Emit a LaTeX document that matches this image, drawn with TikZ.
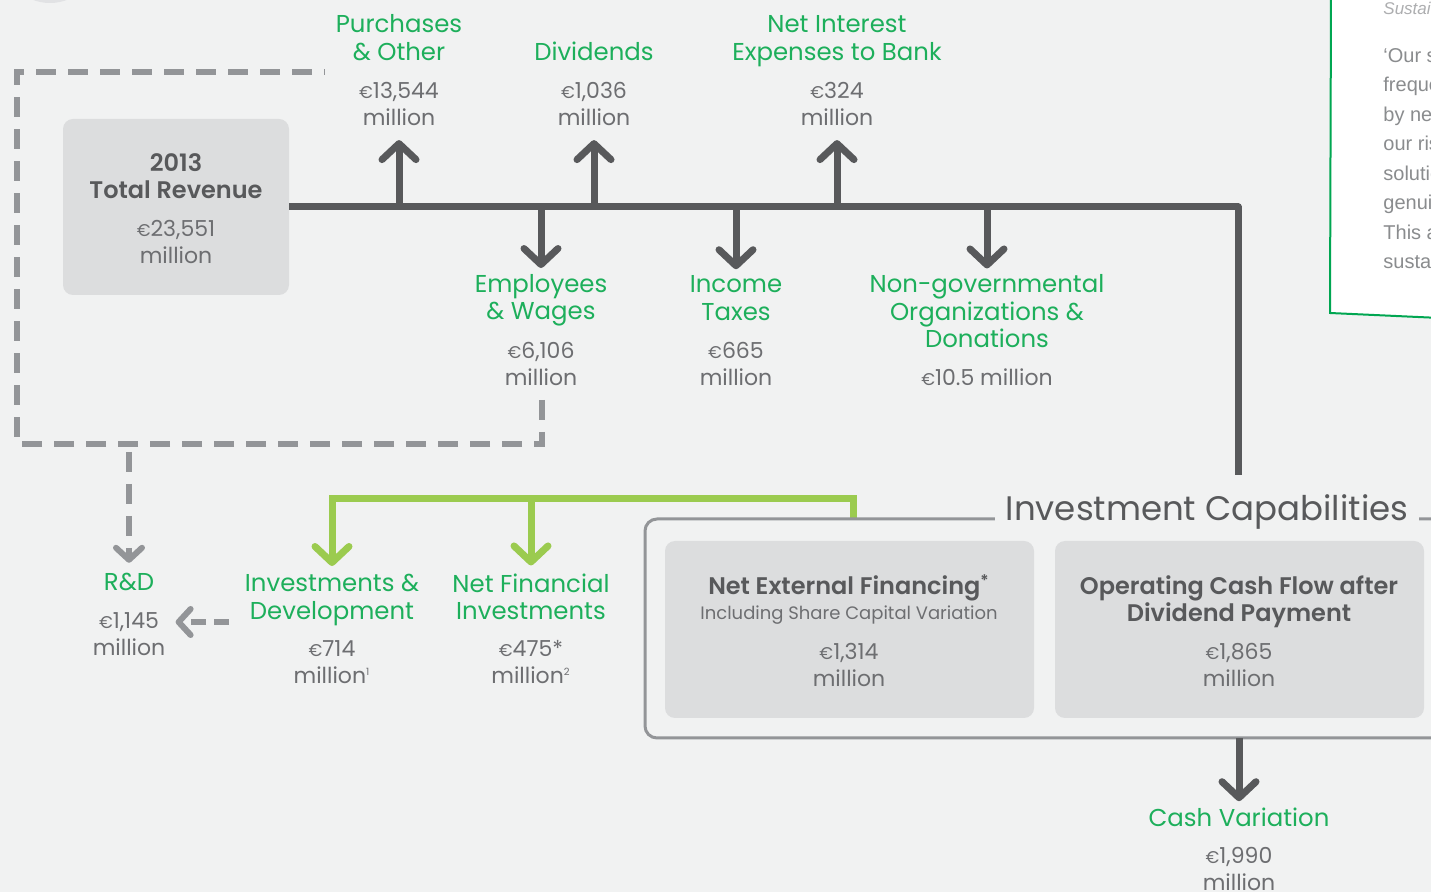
\documentclass[tikz,border=0pt]{standalone}
\usepackage{fontspec}
\setmainfont{Poppins}[BoldFont={Poppins SemiBold}]
\newfontfamily\sidefont{Liberation Sans}
\usetikzlibrary{arrows.meta,positioning}

\definecolor{pagebg}{HTML}{F1F2F2}
\definecolor{boxgrey}{HTML}{DCDDDE}
\definecolor{darkgrey}{HTML}{58595B}
\definecolor{dashgrey}{HTML}{939598}
\definecolor{valgrey}{HTML}{6D6E71}
\definecolor{capgreen}{HTML}{1DAF5B}
\definecolor{lime}{HTML}{9BCB4F}
\definecolor{sidegreen}{HTML}{00A651}
\definecolor{sidegrey}{HTML}{8A8C8E}
\definecolor{circgrey}{HTML}{E1E2E4}

\newcommand\lblfont{\fontsize{12.2}{13.75}\selectfont}
\newcommand\valfont{\fontsize{11}{13.5}\selectfont}
\newcommand\titlefont{\fontsize{12}{13.5}\selectfont\bfseries}
\newcommand\eur{{\fontsize{8.5}{8.5}\selectfont €}}

\begin{document}
\begin{tikzpicture}[x=0.5pt,y=-0.5pt]
\tikzset{
	lbl/.style = {text=capgreen, font=\lblfont, align=center, inner sep=0},
	val/.style = {text=valgrey, font=\valfont, align=center, inner sep=0},
	boxtitle/.style = {text=darkgrey, font=\titlefont, align=center, inner sep=0},
	subtext/.style = {text=valgrey, font=\fontsize{9}{11}\selectfont, inner sep=0},
	greybox/.style = {fill=boxgrey, rounded corners=5pt, inner sep=0},
	sidetext/.style = {text=sidegrey, font=\sidefont\fontsize{10}{12}\selectfont, inner sep=0},
	mainline/.style = {draw=darkgrey, line width=3.5pt, line join=round},
	darkarrow/.style = {mainline, -{Straight Barb[round,length=8pt,width=17pt]}},
	limeline/.style = {draw=lime, line width=3.5pt},
	limearrow/.style = {limeline, -{Straight Barb[round,length=8pt,width=17pt]}},
	dashline/.style = {draw=dashgrey, line width=3pt, dash pattern=on 10pt off 6pt},
	dasharrow/.style = {dashline, -{Straight Barb[round,length=6pt,width=13pt]}}
}

\useasboundingbox (0,0) rectangle (1431,892);
\fill[pagebg] (0,0) rectangle (1431,892);
\clip (0,0) rectangle (1431,892);
\fill[circgrey] (50,-45) circle[radius=24pt];

% side panel
\fill[white] (1331,-5) -- (1330,313) -- (1440,318) -- (1440,-5) -- cycle;
\draw[sidegreen, line width=1pt] (1331,-5) -- (1330,313) -- (1440,318);
\node[sidetext, anchor=base west, font=\sidefont\itshape\fontsize{8.5}{10}\selectfont, text=sidegrey!70] (side-0) at (1383,15) {Sustai};
\foreach \txt [count=\i] in {‘Our s,freque,by ne,our ris,solutio,genui,This a,susta}
	\node[sidetext, anchor=base west] (side-\i) at (1383,33+29.5*\i) {\txt};

% revenue
\node[greybox, minimum width=113pt, minimum height=88pt] (rev) at (176,207) {};
\node[boxtitle] (rev-title) at (176,176.5) {2013\\Total Revenue};
\node[val] (rev-val) at (176,242) {\eur23,551\\million};

% outflows above the line
\node[lbl] (purch-lbl) at (399,37.5) {Purchases\\\& Other};
\node[val] (purch-val) at (399,104) {\eur13,544\\million};
\node[lbl] (div-lbl) at (594,51) {Dividends};
\node[val] (div-val) at (594,104) {\eur1,036\\million};
\node[lbl] (int-lbl) at (837,41) {Net Interest\\Expenses to Bank};
\node[val] (int-val) at (837,104) {\eur324\\million};

% outflows below the line
\node[lbl] (emp-lbl) at (541,300.5) {Employees\\\& Wages};
\node[val] (emp-val) at (541,363.5) {\eur6,106\\million};
\node[lbl] (tax-lbl) at (736,298) {Income\\Taxes};
\node[val] (tax-val) at (736,363.5) {\eur665\\million};
\node[lbl] (ngo-lbl) at (987,311.5) {Non-governmental\\Organizations \&\\Donations};
\node[val] (ngo-val) at (987,377) {\eur10.5 million};

\draw[mainline] (rev.east) -- (1238,207) -- (1238,475);
\foreach \n in {purch,div,int}
	\draw[darkarrow, shorten >=7pt] (\n-val |- rev.east) -- (\n-val);
\foreach \n in {emp,tax,ngo}
	\draw[darkarrow, shorten >=3pt] (\n-lbl |- rev.east) -- (\n-lbl);

% R&D loop
\coordinate (loop-start) at (325,72);
\coordinate (loop-end) at (542,400);
\coordinate (rd-drop) at (129,452);
\coordinate (rd-link) at (229,622);
\draw[dashline] (loop-end) -- (542,444) -- (17,444) -- (17,72) -- (loop-start);

\node[lbl] (rd-lbl) at (129,582) {R\&D};
\node[val] (rd-val) at (129,634.5) {\eur1,145\\million};
\draw[dasharrow, shorten >=5pt] (rd-drop) -- (rd-lbl);
\draw[dasharrow, dash pattern=on 7.5pt off 4pt, shorten >=5pt] (rd-link) -- (rd-link -| rd-val.east);

% investments
\node[lbl] (invdev-lbl) at (332,600) {Investments \&\\Development};
\node[val] (invdev-val) at (332,662) {\eur714\\million\textsuperscript{\tiny 1}};
\node[lbl] (netfin-lbl) at (531,597) {Net Financial\\Investments};
\node[val] (netfin-val) at (531,662) {\eur475*\\million\textsuperscript{\tiny 2}};

\coordinate (cap-top) at (853,519);
\coordinate (lime-bar) at (853,499);
\draw[limearrow, shorten >=4pt] (cap-top) -- (lime-bar) -| (invdev-lbl);
\draw[limearrow, shorten >=4pt] (netfin-lbl |- lime-bar) -- (netfin-lbl);

% investment capabilities
\draw[dashgrey, line width=1.5pt, rounded corners=6pt] (645,519) rectangle (1470,738);
\node[text=darkgrey, font=\fontsize{17}{20}\selectfont, fill=pagebg, inner xsep=5.5pt, inner ysep=1pt] (cap-title) at (1207,512) {Investment Capabilities};

\node[greybox, minimum width=184.5pt, minimum height=88.5pt] (ext) at (849.5,629.5) {};
\node[greybox, minimum width=184.5pt, minimum height=88.5pt] (ocf) at (1239.5,629.5) {};
\node[boxtitle] (ext-title) at (849,588) {Net External Financing\textsuperscript{*}};
\node[subtext] (ext-sub) at (849,615) {Including Share Capital Variation};
\node[val] (ext-val) at (849,664.5) {\eur1,314\\million};
\node[boxtitle] (ocf-title) at (1239,602) {Operating Cash Flow after\\Dividend Payment};
\node[val] (ocf-val) at (1239,665) {\eur1,865\\million};

\coordinate (frame-bot) at (1239,738);
\node[lbl] (cash-lbl) at (1239,817) {Cash Variation};
\node[val] (cash-val) at (1239,869) {\eur1,990\\million};
\draw[darkarrow, shorten >=3pt] (frame-bot) -- (cash-lbl);
\end{tikzpicture}
\end{document}
